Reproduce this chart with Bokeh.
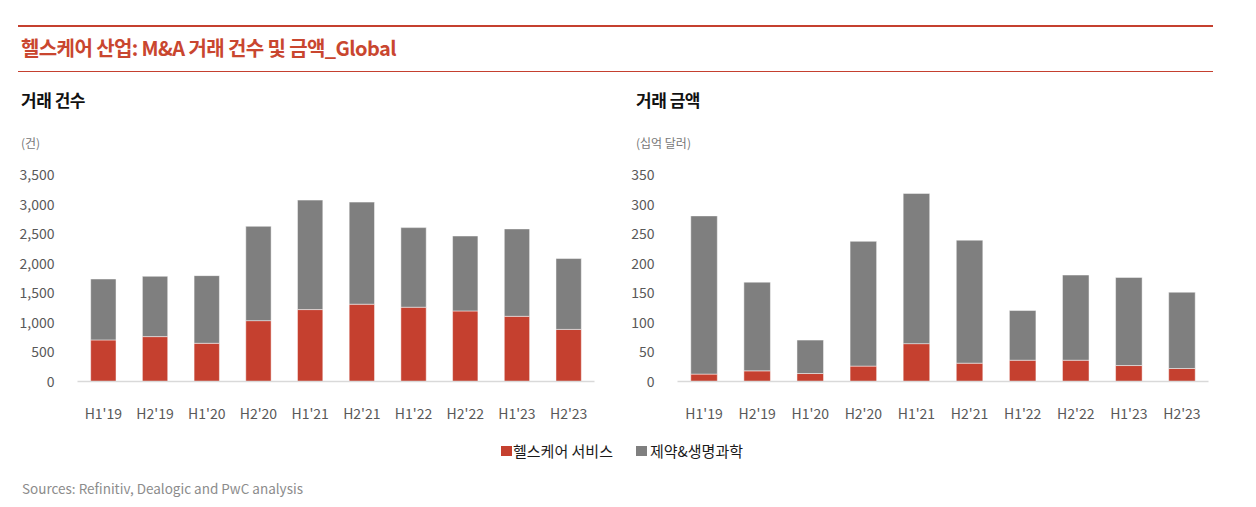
from bokeh.plotting import figure
from bokeh.models import Div, FactorRange, FixedTicker, NumeralTickFormatter
from bokeh.layouts import column, row
from bokeh.embed import file_html
from bokeh.resources import INLINE

periods = ["H1'19", "H2'19", "H1'20", "H2'20", "H1'21", "H2'21", "H1'22", "H2'22", "H1'23", "H2'23"]
series_names = ["헬스케어 서비스", "제약&생명과학"]

# 거래 건수 (건)
count_services = [703, 759, 646, 1029, 1216, 1307, 1256, 1193, 1102, 881]
count_pharma = [1030, 1020, 1144, 1595, 1851, 1726, 1346, 1267, 1478, 1198]
count_ticks = [0, 500, 1000, 1500, 2000, 2500, 3000, 3500]

# 거래 금액 (십억 달러)
value_services = [12.5, 18, 13.5, 26, 64, 31, 36, 36, 27, 22]
value_pharma = [267.5, 150, 56.5, 211, 254, 208, 84, 144, 149, 129]
value_ticks = [0, 50, 100, 150, 200, 250, 300, 350]

RED = "#C5402F"
GRAY = "#7F7F7F"
FONT = "Noto Sans CJK KR"
TXT = "#595959"


def make_chart(services, pharma, ticks, fmt, width, bl, br, bar_w):
    p = figure(x_range=FactorRange(*periods), y_range=(0, ticks[-1]),
               width=width, height=265, output_backend="svg", toolbar_location=None,
               min_border_left=bl, min_border_right=br, min_border_top=14, min_border_bottom=44)
    data = {"period": periods, "s": services, "ph": pharma}
    p.vbar_stack(["s", "ph"], x="period", width=bar_w, color=[RED, GRAY],
                 line_color="white", line_width=0.8, line_alpha=0.6, source=data)
    p.xgrid.visible = False
    p.ygrid.visible = False
    p.outline_line_color = None
    p.background_fill_color = "white"
    p.border_fill_color = "white"
    p.yaxis.ticker = FixedTicker(ticks=ticks)
    p.yaxis.formatter = NumeralTickFormatter(format=fmt)
    p.yaxis.axis_line_color = None
    p.yaxis.major_tick_line_color = None
    p.yaxis.minor_tick_line_color = None
    p.yaxis.major_label_standoff = 17
    p.xaxis.axis_line_color = "#D9D9D9"
    p.xaxis.axis_line_width = 1.5
    p.xaxis.major_tick_line_color = None
    p.xaxis.minor_tick_line_color = None
    p.xaxis.major_label_standoff = 15
    for ax in (p.xaxis, p.yaxis):
        ax.major_label_text_font = FONT
        ax.major_label_text_font_size = "14px"
        ax.major_label_text_color = TXT
    return p


left = make_chart(count_services, count_pharma, count_ticks, "0,0", 620, 77, 26, 0.49)
right = make_chart(value_services, value_pharma, value_ticks, "0", 628, 57, 40, 0.5)

top_html = f"""
<div style="position:relative;width:1248px;height:160px;font-family:'{FONT}';">
  <div style="position:absolute;left:18px;top:25px;width:1195px;height:2px;background:{RED};"></div>
  <div style="position:absolute;left:21px;top:37px;font-size:20px;line-height:22px;font-weight:700;color:#C9462F;letter-spacing:-0.6px;white-space:nowrap;">헬스케어 산업: M&amp;A 거래 건수 및 금액_Global</div>
  <div style="position:absolute;left:18px;top:71px;width:1195px;height:1px;background:{RED};"></div>
  <div style="position:absolute;left:21px;top:90px;font-size:17px;line-height:20px;font-weight:700;color:#111;letter-spacing:-0.5px;white-space:nowrap;">거래 건수</div>
  <div style="position:absolute;left:636px;top:90px;font-size:17px;line-height:20px;font-weight:700;color:#111;letter-spacing:-0.5px;white-space:nowrap;">거래 금액</div>
  <div style="position:absolute;left:21px;top:135px;font-size:12px;line-height:16px;color:#777;white-space:nowrap;">(건)</div>
  <div style="position:absolute;left:636px;top:135px;font-size:12px;line-height:16px;color:#777;white-space:nowrap;">(십억 달러)</div>
</div>
"""

bottom_html = f"""
<div style="position:relative;width:1248px;height:75px;font-family:'{FONT}';">
  <div style="position:absolute;left:501px;top:21px;width:11px;height:10px;background:{RED};"></div>
  <div style="position:absolute;left:513px;top:15px;font-size:15px;line-height:22px;color:#1a1a1a;white-space:nowrap;">{series_names[0]}</div>
  <div style="position:absolute;left:636px;top:21px;width:11px;height:10px;background:{GRAY};"></div>
  <div style="position:absolute;left:650px;top:15px;font-size:15px;line-height:22px;color:#1a1a1a;white-space:nowrap;">{series_names[1]}</div>
  <div style="position:absolute;left:22px;top:54px;font-size:13.5px;line-height:18px;color:#8C8C8C;white-space:nowrap;">Sources: Refinitiv, Dealogic and PwC analysis</div>
</div>
"""

top_div = Div(text=top_html, width=1248, height=160, margin=0)
bottom_div = Div(text=bottom_html, width=1248, height=75, margin=0)

layout = column(top_div, row(left, right, spacing=0), bottom_div, spacing=0)

open("out.html", "w").write(file_html(layout, INLINE))
